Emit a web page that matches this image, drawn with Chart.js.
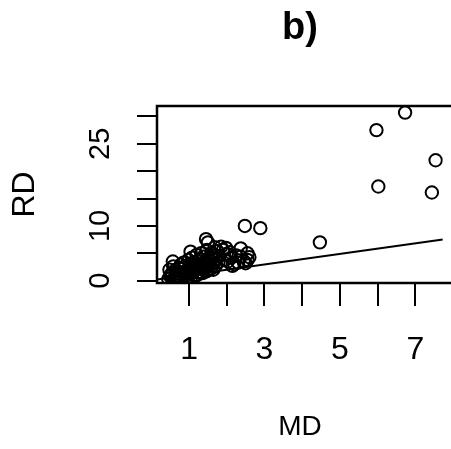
<!DOCTYPE html>
<html>
<head>
<meta charset="utf-8">
<title>RD vs MD</title>
<script src="https://cdn.jsdelivr.net/npm/chart.js@4/dist/chart.umd.min.js"></script>
<style>
  html, body { margin: 0; padding: 0; background: #fff; overflow: hidden; }
</style>
</head>
<body>
<canvas id="scatterChart" width="451" height="449"></canvas>
<script>
// MD / RD pairs
const mdValues = [
  0.45, 0.50, 0.55, 0.48, 0.60, 0.62, 0.58, 0.57,
  0.70, 0.72, 0.68, 0.75, 0.80, 0.82, 0.78, 0.85,
  0.90, 0.92, 0.95, 0.88, 1.00, 1.02, 1.04, 0.98,
  1.05, 1.10, 1.12, 1.08, 1.15, 1.18, 1.20, 1.22,
  1.25, 1.28, 1.30, 1.32, 1.35, 1.38, 1.40, 1.42,
  1.45, 1.50, 1.47, 1.50, 1.52, 1.55, 1.58, 1.60,
  1.62, 1.65, 1.68, 1.70, 1.72, 1.75, 1.78, 1.80,
  1.85, 1.90, 1.95, 1.98, 2.00, 2.03, 2.08, 2.12,
  2.15, 2.20, 2.25, 2.37, 2.37, 2.45, 2.55, 2.55,
  2.60, 2.50, 2.30,
  0.52, 0.65, 0.74, 0.83, 0.94, 1.06, 1.14, 1.24,
  1.34, 1.44, 1.56, 1.66, 0.66, 0.86, 1.03, 1.16,
  1.27, 1.37, 1.48, 1.59, 0.76, 0.96, 1.09, 1.21,
  1.33, 1.46, 1.64,
  2.48, 2.89, 4.47, 5.97, 6.02, 6.73, 7.44, 7.54
];
const rdValues = [
  0.3, 0.8, 1.4, 2.0, 0.1, 0.6, 2.6, 3.5,
  0.2, 1.0, 1.7, 2.3, 0.5, 1.5, 2.9, 3.3,
  0.1, 0.9, 2.0, 2.6, 1.3, 3.0, 5.3, 3.8,
  0.6, 1.8, 2.5, 4.2, 3.4, 1.1, 4.7, 2.2,
  3.0, 1.6, 3.9, 5.0, 2.6, 4.4, 1.9, 3.3,
  7.6, 7.0, 5.6, 2.8, 4.1, 3.6, 2.2, 5.0,
  4.6, 3.1, 6.1, 2.6, 4.0, 5.4, 3.4, 4.5,
  6.2, 5.6, 3.8, 6.0, 4.9, 3.5, 5.2, 4.2,
  2.7, 3.0, 4.6, 5.9, 4.4, 3.6, 5.0, 3.8,
  4.3, 3.2, 3.3,
  1.1, 2.0, 1.3, 2.2, 1.6, 2.8, 2.0, 3.6,
  3.2, 2.4, 3.0, 3.8, 0.9, 1.1, 2.3, 2.9,
  2.3, 1.4, 3.9, 4.2, 0.4, 0.4, 1.4, 1.0,
  1.4, 1.7, 2.0,
  10.0, 9.6, 7.0, 27.5, 17.2, 30.7, 16.1, 22.0
];

// fitted line, end points at the plot edges
const fitMD = [0.15, 7.73];
const fitRD = [0.24, 7.52];

const xTicks = [1, 2, 3, 4, 5, 6, 7];
const xLabeled = [1, 3, 5, 7];
const yTicks = [0, 5, 10, 15, 20, 25, 30];
const yLabeled = [0, 10, 25];

const points = mdValues.map((md, i) => ({ x: md, y: rdValues[i] }));
const fitLine = fitMD.map((md, i) => ({ x: md, y: fitRD[i] }));

// box around the plot region (right side runs off the canvas)
const plotFrame = {
  id: 'plotFrame',
  afterDatasetsDraw(chart) {
    const { ctx, chartArea: a } = chart;
    ctx.save();
    ctx.strokeStyle = '#000';
    ctx.lineWidth = 2.5;
    ctx.strokeRect(a.left, a.top, a.right - a.left + 20, a.bottom - a.top);
    ctx.restore();
  }
};

const ctx = document.getElementById('scatterChart').getContext('2d');
new Chart(ctx, {
  type: 'scatter',
  data: {
    datasets: [{
      data: points,
      pointStyle: 'circle',
      pointRadius: 6.2,
      pointBorderWidth: 2,
      borderColor: '#000',
      backgroundColor: 'rgba(0,0,0,0)'
    }, {
      data: fitLine,
      showLine: true,
      pointRadius: 0,
      borderColor: '#000',
      borderWidth: 2
    }]
  },
  options: {
    responsive: false,
    animation: false,
    devicePixelRatio: 1,
    layout: { padding: { top: 6, left: 0, right: 0, bottom: 0 } },
    plugins: {
      legend: { display: false },
      tooltip: { enabled: false },
      title: {
        display: true,
        text: 'b)',
        fullSize: false,
        color: '#000',
        font: { family: 'Liberation Sans', size: 38, weight: 'bold' },
        padding: { top: 0, bottom: 54.4 }
      }
    },
    scales: {
      x: {
        type: 'linear',
        min: 0.15,
        max: 7.73,
        afterBuildTicks: s => { s.ticks = xTicks.map(v => ({ value: v })); },
        afterFit: s => { s.height = 166; s.paddingLeft = 0; s.paddingRight = 0; },
        border: { display: false },
        grid: { drawOnChartArea: false, drawTicks: true, tickLength: 23, color: '#000', lineWidth: 2 },
        ticks: {
          color: '#000',
          padding: 24.8,
          maxRotation: 0,
          autoSkip: false,
          font: { family: 'Liberation Sans', size: 32 },
          callback: v => xLabeled.includes(v) ? String(v) : ''
        },
        title: {
          display: true,
          text: 'MD',
          color: '#000',
          font: { family: 'Liberation Sans', size: 28 },
          padding: { top: 0, bottom: 5.2 }
        }
      },
      y: {
        type: 'linear',
        min: -0.42,
        max: 31.9,
        afterBuildTicks: s => { s.ticks = yTicks.map(v => ({ value: v })); },
        afterFit: s => { s.width = 157; s.paddingTop = 0; s.paddingBottom = 0; },
        border: { display: false },
        grid: { drawOnChartArea: false, drawTicks: true, tickLength: 20, color: '#000', lineWidth: 2 },
        ticks: {
          color: '#000',
          padding: 20,
          minRotation: 90,
          maxRotation: 90,
          crossAlign: 'center',
          autoSkip: false,
          font: { family: 'Liberation Sans', size: 29 },
          callback: v => yLabeled.includes(v) ? String(v) : ''
        },
        title: {
          display: true,
          text: 'RD',
          color: '#000',
          font: { family: 'Liberation Sans', size: 32 },
          padding: { top: 6, bottom: 0 }
        }
      }
    }
  },
  plugins: [plotFrame]
});
</script>
</body>
</html>
